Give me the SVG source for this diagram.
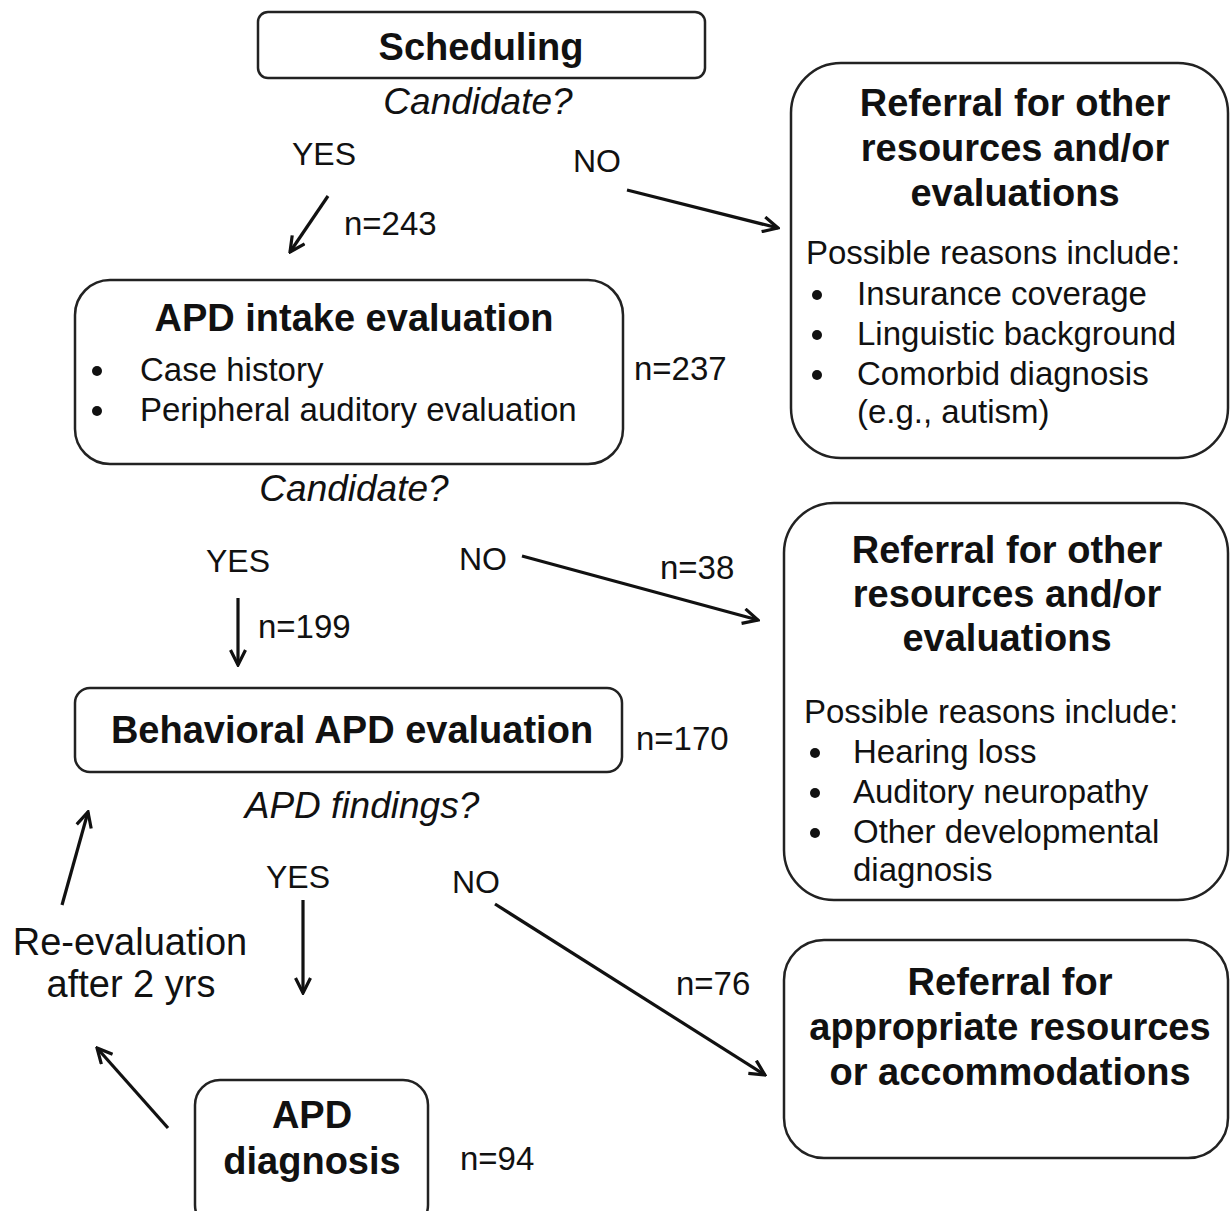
<svg xmlns="http://www.w3.org/2000/svg" width="1230" height="1211" viewBox="0 0 1230 1211">
<style>
.box{fill:#fff;stroke:#222;stroke-width:2.5}
.t{font-family:"Liberation Sans",Arial,sans-serif;fill:#111}
.b{font-weight:bold;font-size:38px;text-anchor:middle}
.r{font-size:33px}
.i{font-style:italic;font-size:37px;text-anchor:middle}
.l{font-size:32px}
.e{font-size:38px;text-anchor:middle}
.c{fill:none;stroke:#111;stroke-width:3.2;marker-end:url(#ah)}
.d{fill:#111}
</style>
<defs>
<marker id="ah" viewBox="0 0 18 18" refX="16" refY="9" markerWidth="18" markerHeight="18" markerUnits="userSpaceOnUse" orient="auto">
<path d="M1,1.5 L16,9 L1,16.5" fill="none" stroke="#111" stroke-width="3.2"/>
</marker>
</defs>
<rect width="1230" height="1211" fill="#fff"/>
<g id="scheduling">
<rect class="box" x="258" y="12" width="447" height="66" rx="10"/>
<text class="t b" x="481" y="60">Scheduling</text>
</g>
<text class="t i" x="478" y="114">Candidate?</text>
<text class="t l" x="292" y="165">YES</text>
<text class="t l" x="573" y="172">NO</text>
<text class="t r" x="344" y="235">n=243</text>
<g id="referral1">
<rect class="box" x="791" y="63" width="437" height="395" rx="50"/>
<text class="t b" x="1015" y="116">Referral for other</text>
<text class="t b" x="1015" y="161">resources and/or</text>
<text class="t b" x="1015" y="206">evaluations</text>
<text class="t r" x="806" y="264">Possible reasons include:</text>
<circle class="d" cx="817" cy="295" r="5"/>
<circle class="d" cx="817" cy="335" r="5"/>
<circle class="d" cx="817" cy="375" r="5"/>
<text class="t r" x="857" y="305">Insurance coverage</text>
<text class="t r" x="857" y="345">Linguistic background</text>
<text class="t r" x="857" y="385">Comorbid diagnosis</text>
<text class="t r" x="857" y="423">(e.g., autism)</text>
</g>
<g id="intake">
<rect class="box" x="75" y="280" width="548" height="184" rx="35"/>
<text class="t b" x="354" y="331">APD intake evaluation</text>
<circle class="d" cx="97" cy="371" r="5"/>
<circle class="d" cx="97" cy="411" r="5"/>
<text class="t r" x="140" y="381">Case history</text>
<text class="t r" x="140" y="421">Peripheral auditory evaluation</text>
</g>
<text class="t r" x="634" y="380">n=237</text>
<text class="t i" x="354" y="501">Candidate?</text>
<text class="t l" x="206" y="572">YES</text>
<text class="t l" x="459" y="570">NO</text>
<text class="t r" x="258" y="638">n=199</text>
<text class="t r" x="660" y="579">n=38</text>
<g id="referral2">
<rect class="box" x="784" y="503" width="444" height="397" rx="50"/>
<text class="t b" x="1007" y="563">Referral for other</text>
<text class="t b" x="1007" y="607">resources and/or</text>
<text class="t b" x="1007" y="651">evaluations</text>
<text class="t r" x="804" y="723">Possible reasons include:</text>
<circle class="d" cx="815" cy="753" r="5"/>
<circle class="d" cx="815" cy="793" r="5"/>
<circle class="d" cx="815" cy="833" r="5"/>
<text class="t r" x="853" y="763">Hearing loss</text>
<text class="t r" x="853" y="803">Auditory neuropathy</text>
<text class="t r" x="853" y="843">Other developmental</text>
<text class="t r" x="853" y="881">diagnosis</text>
</g>
<g id="behavioral">
<rect class="box" x="75" y="688" width="547" height="84" rx="15"/>
<text class="t b" x="352" y="743">Behavioral APD evaluation</text>
</g>
<text class="t r" x="636" y="750">n=170</text>
<text class="t i" x="362" y="818">APD findings?</text>
<text class="t l" x="266" y="888">YES</text>
<text class="t l" x="452" y="893">NO</text>
<text class="t r" x="676" y="995">n=76</text>
<text class="t e" x="130" y="955">Re-evaluation</text>
<text class="t e" x="131" y="997">after 2 yrs</text>
<g id="referral3">
<rect class="box" x="784" y="940" width="444" height="218" rx="40"/>
<text class="t b" x="1010" y="995">Referral for</text>
<text class="t b" x="1010" y="1040">appropriate resources</text>
<text class="t b" x="1010" y="1085">or accommodations</text>
</g>
<g id="diagnosis">
<rect class="box" x="195" y="1080" width="233" height="150" rx="25"/>
<text class="t b" x="312" y="1128">APD</text>
<text class="t b" x="312" y="1174">diagnosis</text>
</g>
<text class="t r" x="460" y="1170">n=94</text>
<g id="connectors">
<line class="c" x1="328" y1="196" x2="290" y2="252"/>
<line class="c" x1="627" y1="190" x2="778" y2="228"/>
<line class="c" x1="238" y1="598" x2="238" y2="665"/>
<line class="c" x1="522" y1="556" x2="758" y2="620"/>
<line class="c" x1="303" y1="900" x2="303" y2="993"/>
<line class="c" x1="495" y1="904" x2="765" y2="1075"/>
<line class="c" x1="168" y1="1128" x2="97" y2="1048"/>
<line class="c" x1="62" y1="905" x2="88" y2="812"/>
</g>
</svg>
